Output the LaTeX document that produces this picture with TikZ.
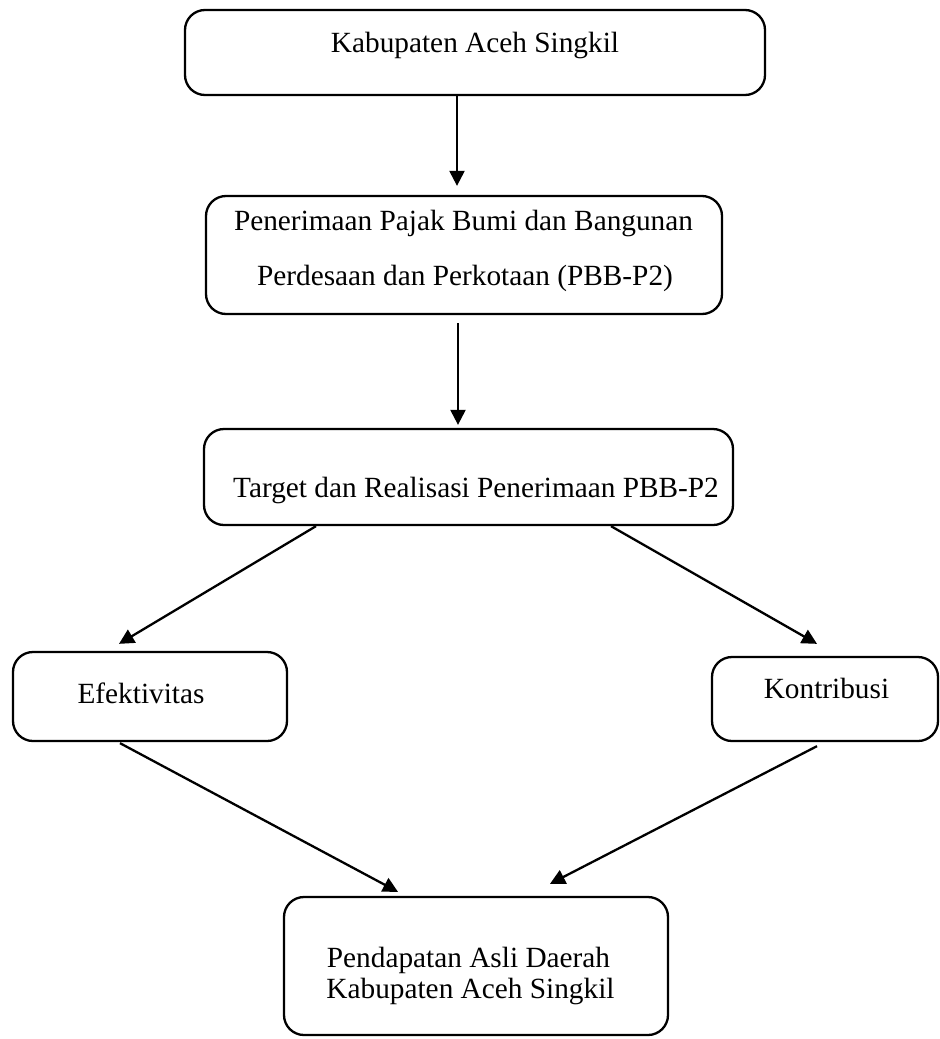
\documentclass[tikz,border=0pt]{standalone}
\usepackage{fontspec}
\setmainfont{Liberation Serif}
\usetikzlibrary{arrows.meta,calc}
\begin{document}
\begin{tikzpicture}[x=0.5pt,y=-0.5pt,
  box/.style={draw, line width=1.15pt, rounded corners=10pt, inner sep=0pt},
  lbl/.style={anchor=base, inner sep=0pt, font=\fontsize{14.65}{17}\selectfont},
  arr/.style={line width=1.15pt, -{Triangle[length=7.5pt,width=7.5pt]}}]
\useasboundingbox (0,0) rectangle (939,1039);
% boxes
\node[box, minimum width=290pt, minimum height=42.5pt] (b1) at (475,52.5) {};
\node[box, minimum width=258pt, minimum height=59pt] (b2) at (464,255) {};
\node[box, minimum width=264.5pt, minimum height=48pt] (b3) at (468.5,477) {};
\node[box, minimum width=137pt, minimum height=44.5pt] (b4) at (150,696.5) {};
\node[box, minimum width=113pt, minimum height=42pt] (b5) at (825,699) {};
\node[box, minimum width=192pt, minimum height=69pt] (b6) at (476,966) {};
% texts
\node[lbl] (t1) at (475,52) {Kabupaten Aceh Singkil};
\node[lbl] (t2a) at (463.5,230) {Penerimaan Pajak Bumi dan Bangunan};
\node[lbl] (t2b) at (465,285) {Perdesaan dan Perkotaan (PBB-P2)};
\node[lbl] (t3) at (476,497) {Target dan Realisasi Penerimaan PBB-P2};
\node[lbl] (t4) at (141,703) {Efektivitas};
\node[lbl] (t5) at (826.5,698) {Kontribusi};
\node[lbl] (t6a) at (468.5,967) {Pendapatan Asli Daerah};
\node[lbl] (t6b) at (470.5,998) {Kabupaten Aceh Singkil};
% arrows
\draw[arr] ($(b1.south)+(-18,0)$) -- ($(b2.north)+(-7,-9)$);
\draw[arr] ($(b2.south)+(-6,8)$) -- ($(b3.north)+(-10.5,-3)$);
\draw[arr] ($(b3.south)+(-152.5,0)$) -- ($(b4.north)+(-31,-7)$);
\draw[arr] ($(b3.south)+(142.5,0)$) -- ($(b5.north)+(-8,-12)$);
\draw[arr] ($(b4.south)+(-30,1)$) -- ($(b6.north)+(-78,-4)$);
\draw[arr] ($(b5.south)+(-8,4)$) -- ($(b6.north)+(74,-12)$);
\end{tikzpicture}
\end{document}
